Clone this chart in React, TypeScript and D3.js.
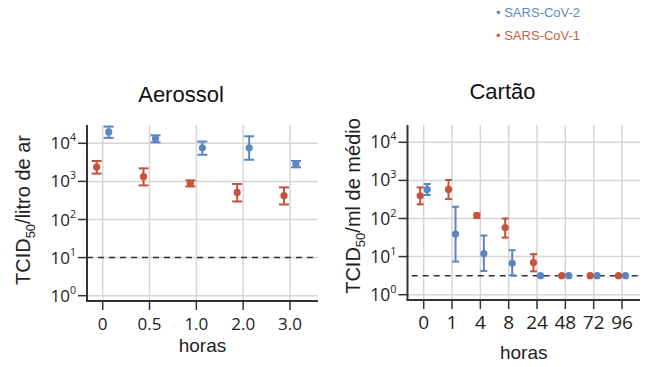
import React from 'react';
import * as d3 from 'd3';

// Aerossol (TCID50 / litro de ar)
const aeroTimes = ['0', '0.5', '1.0', '2.0', '3.0'];
const aeroCov2 = [19900, 13300, 7600, 7600, 2870];
const aeroCov2Lo = [13900, 10600, 5000, 3700, 2340];
const aeroCov2Hi = [27500, 16200, 11100, 15300, 3440];
const aeroCov1 = [2390, 1330, 886, 514, 421];
const aeroCov1Lo = [1600, 785, 738, 298, 248];
const aeroCov1Hi = [3440, 2200, 1063, 855, 695];
const aeroLimit = 10;

// Cartão (TCID50 / ml de médio)
const cardTimes = ['0', '1', '4', '8', '24', '48', '72', '96'];
const cardCov2 = [580, 39, 12, 6.7, 3.16, 3.16, 3.16, 3.16];
const cardCov2Lo: (number | null)[] = [413, 7.4, 4.2, 3.24, null, null, null, null];
const cardCov2Hi: (number | null)[] = [804, 203, 35.7, 14.7, null, null, null, null];
const cardCov1 = [396, 580, 120, 58, 6.95, 3.16, 3.16, 3.16];
const cardCov1Lo: (number | null)[] = [235, 324, 104, 31.6, 4.1, null, null, null];
const cardCov1Hi: (number | null)[] = [655, 1025, 135, 100, 11.6, null, null, null];
const cardLimit = 3.16;

const yTicks = [1, 10, 100, 1000, 10000];

const BLUE = '#5b85c3';
const RED = '#c4533a';
const AXIS = '#333';
const GRID = '#d6d6d6';
const TICK_FONT = '"Open Sans", sans-serif';
const LABEL_FONT = '"Liberation Sans", Arial, sans-serif';

interface Series {
  values: number[];
  lo: (number | null)[];
  hi: (number | null)[];
  color: string;
  offset: number;
}

interface PanelProps {
  title: string;
  titleX: number;
  titleY: number;
  yLabel: string;
  yLabelX: number;
  yLabelY: number;
  categories: string[];
  series: Series[];
  limit: number;
  frame: { left: number; right: number; top: number; bottom: number };
  xRange: [number, number];
  yRange: [number, number];
  dashRange: [number, number];
  capW: number;
  tickFont: number;
  xTickFont: number;
  xTickY: number;
  xLabelY: number;
}

function Panel(p: PanelProps) {
  const x = d3.scalePoint<string>().domain(p.categories).range(p.xRange);
  const y = d3.scaleLog().domain([1, 10000]).range(p.yRange);
  const { left, right, top, bottom } = p.frame;

  return (
    <g>
      <text x={p.titleX} y={p.titleY} textAnchor="middle" fontFamily={LABEL_FONT} fontSize={22} fill="#111">
        {p.title}
      </text>

      {/* grid */}
      {yTicks.map((t) => (
        <line key={'gy' + t} x1={left} x2={right} y1={y(t)} y2={y(t)} stroke={GRID} strokeWidth={1.5} />
      ))}
      {p.categories.map((c) => (
        <line key={'gx' + c} x1={x(c)} x2={x(c)} y1={top} y2={bottom} stroke={GRID} strokeWidth={1.5} />
      ))}

      {/* detection limit */}
      <line
        x1={p.dashRange[0]}
        x2={p.dashRange[1]}
        y1={y(p.limit)}
        y2={y(p.limit)}
        stroke={AXIS}
        strokeWidth={1.5}
        strokeDasharray="6,5"
      />

      {/* axes */}
      <line x1={left} x2={left} y1={top} y2={bottom} stroke={AXIS} strokeWidth={2} />
      <line x1={left - 1} x2={right} y1={bottom} y2={bottom} stroke={AXIS} strokeWidth={2} />
      {yTicks.map((t) => {
        const exp = Math.round(Math.log10(t));
        return (
          <g key={'ty' + t}>
            <line x1={left - 9} x2={left} y1={y(t)} y2={y(t)} stroke={AXIS} strokeWidth={1.5} />
            <text
              x={left - 11}
              y={y(t) + 6}
              textAnchor="end"
              fontFamily={TICK_FONT}
              fontSize={p.tickFont}
              fill="#222"
            >
              10
              <tspan fontSize={p.tickFont * 0.62} dy={-8}>
                {exp}
              </tspan>
            </text>
          </g>
        );
      })}
      {p.categories.map((c) => (
        <g key={'tx' + c}>
          <line x1={x(c)} x2={x(c)} y1={bottom} y2={bottom + 9} stroke={AXIS} strokeWidth={1.5} />
          <text x={x(c)} y={p.xTickY} textAnchor="middle" fontFamily={TICK_FONT} fontSize={p.xTickFont} fill="#222">
            {c}
          </text>
        </g>
      ))}
      <text
        x={(left + right) / 2}
        y={p.xLabelY}
        textAnchor="middle"
        fontFamily={LABEL_FONT}
        fontSize={19}
        fill="#222"
      >
        horas
      </text>
      <text
        transform={`translate(${p.yLabelX},${p.yLabelY}) rotate(-90)`}
        textAnchor="middle"
        fontFamily={LABEL_FONT}
        fontSize={20}
        fill="#222"
      >
        TCID
        <tspan fontSize={13} dy={5}>
          50
        </tspan>
        <tspan dy={-5}>{p.yLabel}</tspan>
      </text>

      {/* points */}
      {p.series.map((s, si) =>
        p.categories.map((c, i) => {
          const cx = (x(c) ?? 0) + s.offset;
          const lo = s.lo[i];
          const hi = s.hi[i];
          return (
            <g key={`p${si}-${c}`}>
              {lo != null && hi != null && (
                <g stroke={s.color} strokeWidth={2}>
                  <line x1={cx} x2={cx} y1={y(lo)} y2={y(hi)} />
                  <line x1={cx - p.capW / 2} x2={cx + p.capW / 2} y1={y(lo)} y2={y(lo)} />
                  <line x1={cx - p.capW / 2} x2={cx + p.capW / 2} y1={y(hi)} y2={y(hi)} />
                </g>
              )}
              <circle cx={cx} cy={y(s.values[i])} r={3.6} fill={s.color} />
            </g>
          );
        })
      )}
    </g>
  );
}

export default function App() {
  return (
    <div style={{ position: 'fixed', left: 0, top: 0 }}>
      <svg width={651} height={367} style={{ display: 'block', background: '#fff' }}>
        {/* legend */}
        <g fontFamily={LABEL_FONT} fontSize={13}>
          <text x={496} y={16.5} fill="#6089c4">
            • SARS-CoV-2
          </text>
          <text x={496} y={39.5} fill="#c8604a">
            • SARS-CoV-1
          </text>
        </g>

        <Panel
          title="Aerossol"
          titleX={181}
          titleY={102}
          yLabel="/litro de ar"
          yLabelX={30}
          yLabelY={210}
          categories={aeroTimes}
          series={[
            { values: aeroCov1, lo: aeroCov1Lo, hi: aeroCov1Hi, color: RED, offset: -6 },
            { values: aeroCov2, lo: aeroCov2Lo, hi: aeroCov2Hi, color: BLUE, offset: 6 },
          ]}
          limit={aeroLimit}
          frame={{ left: 87, right: 318, top: 125, bottom: 301 }}
          xRange={[102.7, 290]}
          yRange={[295.7, 143.3]}
          dashRange={[87, 318]}
          capW={10}
          tickFont={17}
          xTickFont={17}
          xTickY={329.5}
          xLabelY={351.5}
        />

        <Panel
          title="Cartão"
          titleX={502.5}
          titleY={98.5}
          yLabel="/ml de médio"
          yLabelX={360}
          yLabelY={206}
          categories={cardTimes}
          series={[
            { values: cardCov1, lo: cardCov1Lo, hi: cardCov1Hi, color: RED, offset: -3.5 },
            { values: cardCov2, lo: cardCov2Lo, hi: cardCov2Hi, color: BLUE, offset: 3.5 },
          ]}
          limit={cardLimit}
          frame={{ left: 407.5, right: 640, top: 125, bottom: 300 }}
          xRange={[423.7, 622]}
          yRange={[294.7, 142.3]}
          dashRange={[411.7, 638]}
          capW={7}
          tickFont={17.5}
          xTickFont={19}
          xTickY={329}
          xLabelY={359}
        />
      </svg>
    </div>
  );
}
